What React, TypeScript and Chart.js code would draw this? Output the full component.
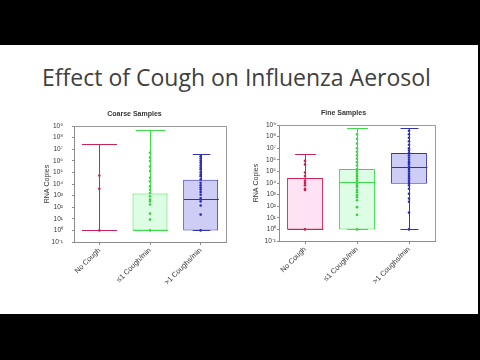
import React, { useEffect, useRef } from 'react';
import { Chart, registerables } from 'chart.js';

Chart.register(...registerables);

// ---------- data ----------
const categories = ['No Cough', '≤1 Cough/min', '>1 Coughs/min'];
const yTickExponents = [-1, 0, 1, 2, 3, 4, 5, 6, 7, 8, 9];

// Coarse samples (RNA copies)
const coarseMin = [1, 1, 1];
const coarseQ1 = [1, 1, 1];
const coarseMedian = [1, 1, 550];
const coarseQ3 = [1, 1500, 23000];
const coarseMax = [3e7, 4.5e8, 3.5e6];
const coarseNoCoughPts = [1, 54000, 3800];
const coarseLe1Pts = [5e6, 1.9e6, 9.5e5, 3.2e5, 1.3e5, 3.5e4, 1.7e4, 6300, 3200, 1700, 870, 460, 320, 170, 28, 8.5, 1];
const coarseGt1Pts = [2.5e6, 1.6e6, 1e6, 6.8e5, 4e5, 2.5e5, 1.8e5, 1e5, 6.3e4, 4.7e4, 2.5e4, 1.3e4, 7900, 5000, 3300, 2000, 1200, 630, 320, 140, 23, 1];

// Fine samples (RNA copies)
const fineMin = [1, 1, 1];
const fineQ1 = [1, 1, 8500];
const fineMedian = [1, 13000, 2.45e5];
const fineQ3 = [27500, 1.6e5, 3.9e6];
const fineMax = [3e6, 5.5e8, 5.5e8];
const fineNoCoughPts = [8e5, 4e5, 8e4, 4e4, 1.6e4, 1e4, 6300, 3200, 2500, 1];
const fineLe1Pts = [1.6e8, 6.3e7, 2.5e7, 1e7, 5e6, 2.5e6, 1.26e6, 6.3e5, 3.2e5, 1.6e5, 1e5, 6.3e4, 4e4, 2.5e4, 1.6e4, 1e4, 6300, 4300, 2500, 1600, 900, 590, 330, 83, 18, 1];
const fineGt1Pts = [3.2e8, 1.6e8, 8e7, 4e7, 2e7, 1e7, 6.3e6, 4e6, 2.5e6, 1.6e6, 1e6, 6.3e5, 4e5, 2.5e5, 1.6e5, 1e5, 6.3e4, 4e4, 2.5e4, 1.6e4, 1e4, 6300, 3200, 1200, 460, 240, 28, 1];

// ---------- styles ----------
const lineColors = ['#cc2255', '#3ddc4a', '#3434aa'];
const fillColors = ['#ffe2f3', '#ddfde4', '#cdcdf6'];
const pointColors = ['#c81e50', '#34d040', '#2a2ab8'];
const FONT = "'Liberation Sans', Arial, sans-serif";

const SUP: Record<string, string> = {
  '-': '⁻', '0': '⁰', '1': '¹', '2': '²', '3': '³', '4': '⁴', '5': '⁵', '6': '⁶', '7': '⁷', '8': '⁸', '9': '⁹',
};
const sup = (n: number) => String(n).split('').map((c) => SUP[c] || c).join('');

const boxPlugin = {
  id: 'boxExtras',
  afterDatasetsDraw(chart: any, _args: any, opts: any) {
    const { ctx, chartArea, scales } = chart;
    const x = scales.x;
    const y = scales.y;
    const barMeta = chart.getDatasetMeta(opts.barIndex);
    ctx.save();
    ctx.lineWidth = 1;
    for (let i = 0; i < opts.min.length; i++) {
      const cx = Math.round(x.getPixelForValue(i)) + 0.5;
      const bw = barMeta.data[i].width;
      const cap = bw * opts.capFrac[i];
      ctx.strokeStyle = lineColors[i];
      const pMin = Math.round(y.getPixelForValue(opts.min[i])) + 0.5;
      const pQ1 = y.getPixelForValue(opts.q1[i]);
      const pQ3 = y.getPixelForValue(opts.q3[i]);
      const pMax = Math.round(y.getPixelForValue(opts.max[i])) + 0.5;
      const pMed = Math.round(y.getPixelForValue(opts.median[i])) + 0.5;
      ctx.beginPath();
      ctx.moveTo(cx, pMax); ctx.lineTo(cx, pQ3);
      ctx.moveTo(cx, pQ1); ctx.lineTo(cx, pMin);
      ctx.moveTo(cx - cap / 2, pMax); ctx.lineTo(cx + cap / 2, pMax);
      ctx.moveTo(cx - cap / 2, pMin); ctx.lineTo(cx + cap / 2, pMin);
      if (opts.q3[i] > opts.q1[i]) {
        ctx.moveTo(cx - bw / 2, pMed); ctx.lineTo(cx + bw / 2, pMed);
      }
      ctx.stroke();
    }
    // frame top & right
    ctx.strokeStyle = '#9a9a9a';
    ctx.beginPath();
    ctx.moveTo(chartArea.left, Math.round(chartArea.top) + 0.5);
    ctx.lineTo(Math.round(chartArea.right) + 0.5, Math.round(chartArea.top) + 0.5);
    ctx.lineTo(Math.round(chartArea.right) + 0.5, chartArea.bottom);
    ctx.stroke();
    ctx.restore();
  },
};

type PanelProps = {
  title: string;
  min: number[]; q1: number[]; median: number[]; q3: number[]; max: number[];
  points: number[][];
  capFrac: number[];
  left: number; top: number; width: number; height: number;
  yWidth: number; xHeight: number; tickPad: number;
};

function Panel(p: PanelProps) {
  const ref = useRef<HTMLCanvasElement>(null);
  useEffect(() => {
    if (!ref.current) return;
    const scatterSets = p.points.map((pts, i) => ({
      type: 'scatter' as const,
      data: pts.map((v) => ({ x: categories[i], y: v })),
      backgroundColor: pointColors[i],
      borderWidth: 0,
      pointRadius: 1.3,
      order: 1,
    }));
    const chart = new Chart(ref.current, {
      type: 'bar',
      data: {
        labels: categories,
        datasets: [
          {
            type: 'bar',
            data: p.q1.map((v, i) => [v, p.q3[i]]) as any,
            backgroundColor: fillColors,
            borderColor: lineColors,
            borderWidth: 1,
            borderSkipped: false,
            barPercentage: 0.69,
            categoryPercentage: 1,
            order: 2,
          } as any,
          ...scatterSets,
        ],
      },
      options: {
        animation: false,
        responsive: false,
        layout: { padding: { left: 0, right: 10, top: 0, bottom: 0 } },
        plugins: {
          legend: { display: false },
          tooltip: { enabled: false },
          title: {
            display: true,
            text: p.title,
            color: '#333',
            font: { family: FONT, size: 7, weight: 'bold' },
            padding: { top: 6, bottom: 7.6 },
          },
          boxExtras: {
            barIndex: 0,
            min: p.min, q1: p.q1, median: p.median, q3: p.q3, max: p.max, capFrac: p.capFrac,
          },
        } as any,
        scales: {
          x: {
            type: 'category',
            offset: true,
            afterFit: (s: any) => { s.height = p.xHeight; },
            grid: { display: true, drawOnChartArea: false, tickLength: 3, color: '#8c8c8c', offset: false },
            border: { color: '#8c8c8c' },
            ticks: {
              color: '#333',
              font: { family: FONT, size: 7.3 },
              minRotation: 45,
              maxRotation: 45,
              padding: 1,
              autoSkip: false,
            },
          },
          y: {
            type: 'logarithmic',
            min: 0.1,
            max: 1e9,
            afterFit: (s: any) => { s.width = p.yWidth; },
            afterBuildTicks: (s: any) => {
              s.ticks = yTickExponents.map((e) => ({ value: Math.pow(10, e) }));
            },
            grid: { display: true, drawOnChartArea: false, tickLength: 2, color: '#8c8c8c' },
            border: { color: '#8c8c8c' },
            ticks: {
              color: '#333',
              font: { family: FONT, size: 6.5 },
              padding: p.tickPad,
              autoSkip: false,
              callback: (v: any) => '10' + sup(Math.round(Math.log10(Number(v)))),
            },
            title: {
              display: true,
              text: 'RNA Copies',
              color: '#333',
              font: { family: FONT, size: 7 },
              padding: 0,
            },
          },
        },
      },
      plugins: [boxPlugin],
    });
    return () => chart.destroy();
  }, []);
  return (
    <canvas
      ref={ref}
      width={p.width}
      height={p.height}
      style={{ position: 'absolute', left: p.left, top: p.top, width: p.width, height: p.height }}
    />
  );
}

export default function App() {
  return (
    <div style={{ position: 'fixed', left: 0, top: 0, width: 480, height: 360, background: '#000', overflow: 'hidden' }}>
      <div style={{ position: 'absolute', left: 0, top: 45, width: 478, height: 269, background: '#fff' }} />
      <div
        style={{
          position: 'absolute', left: 0, top: 65.6, width: 473, textAlign: 'center',
          fontFamily: "'Open Sans', sans-serif", fontSize: 23, lineHeight: '23px', color: '#404040', whiteSpace: 'nowrap',
        }}
      >
        Effect of Cough on Influenza Aerosol
      </div>
      <Panel
        title="Coarse Samples"
        min={coarseMin} q1={coarseQ1} median={coarseMedian} q3={coarseQ3} max={coarseMax}
        points={[coarseNoCoughPts, coarseLe1Pts, coarseGt1Pts]}
        capFrac={[1, 0.85, 0.5]}
        left={43} top={104} width={193} height={200}
        yWidth={31} xHeight={62} tickPad={9}
      />
      <Panel
        title="Fine Samples"
        min={fineMin} q1={fineQ1} median={fineMedian} q3={fineQ3} max={fineMax}
        points={[fineNoCoughPts, fineLe1Pts, fineGt1Pts]}
        capFrac={[0.58, 0.58, 0.5]}
        left={252} top={103} width={193} height={200}
        yWidth={27} xHeight={62} tickPad={1}
      />
    </div>
  );
}
